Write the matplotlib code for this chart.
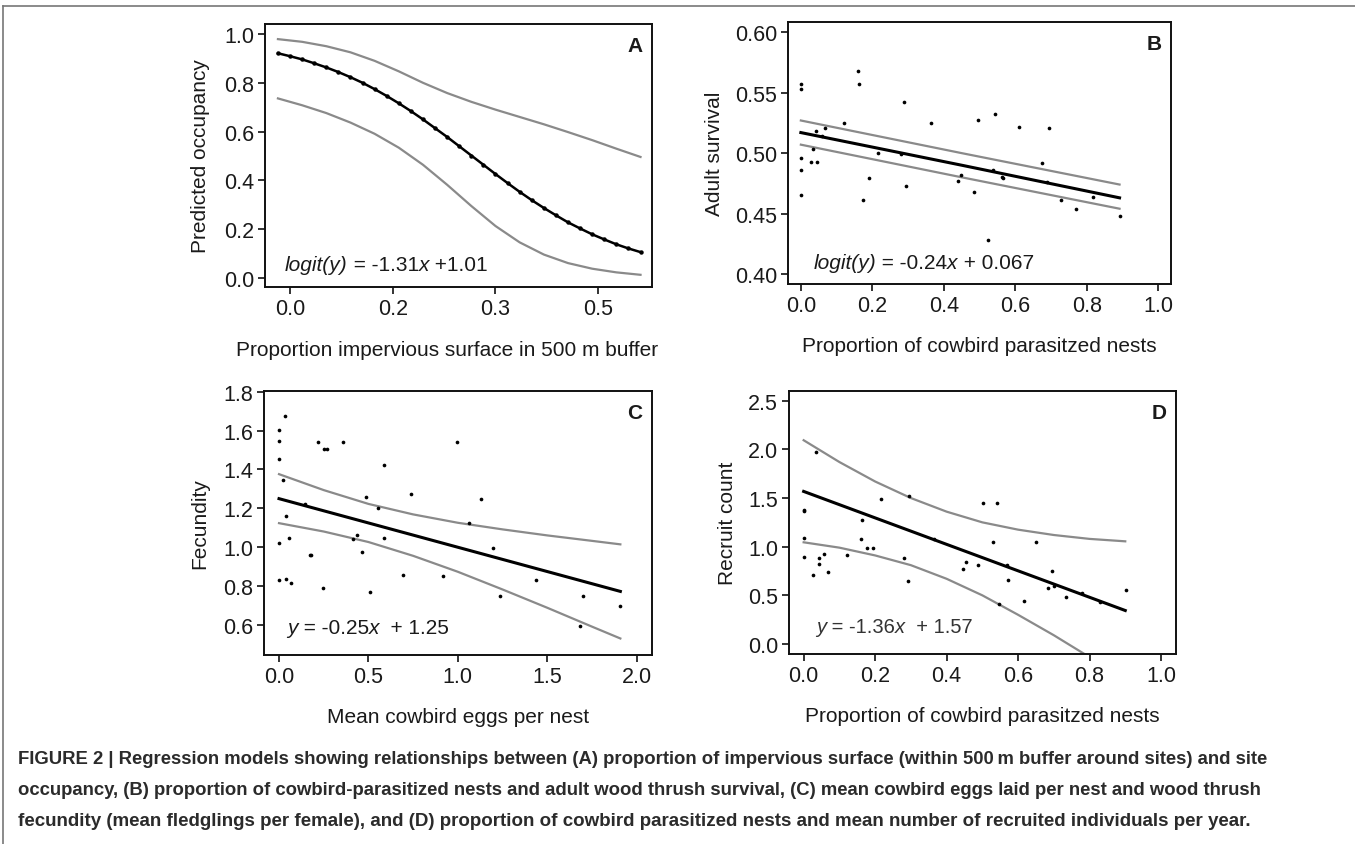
import matplotlib
matplotlib.use("Agg")
import matplotlib.pyplot as plt
from matplotlib import font_manager
from matplotlib.lines import Line2D
from matplotlib.transforms import offset_copy

# ---------------- data ----------------
# Panel A: predicted occupancy vs impervious surface
a_mean_x = [-0.02, 0.00, 0.02, 0.04, 0.06, 0.08, 0.10, 0.12, 0.14, 0.16, 0.18, 0.20, 0.22, 0.24,
            0.26, 0.28, 0.30, 0.32, 0.34, 0.36, 0.38, 0.40, 0.42, 0.44, 0.46, 0.48, 0.50, 0.52,
            0.54, 0.56, 0.58]
a_mean_y = [0.921, 0.909, 0.896, 0.880, 0.863, 0.844, 0.823, 0.800, 0.774, 0.746, 0.716, 0.684,
            0.650, 0.614, 0.578, 0.540, 0.502, 0.464, 0.426, 0.389, 0.353, 0.319, 0.287, 0.257,
            0.228, 0.203, 0.179, 0.158, 0.138, 0.121, 0.106]
a_band_x = [-0.02, 0.02, 0.06, 0.10, 0.14, 0.18, 0.22, 0.26, 0.30, 0.34, 0.38, 0.42, 0.46, 0.50,
            0.54, 0.58]
a_upper = [0.979, 0.968, 0.950, 0.925, 0.890, 0.847, 0.800, 0.758, 0.722, 0.690, 0.660, 0.630,
           0.598, 0.565, 0.530, 0.496]
a_lower = [0.736, 0.708, 0.676, 0.637, 0.591, 0.534, 0.464, 0.382, 0.295, 0.213, 0.146, 0.096,
           0.061, 0.038, 0.023, 0.013]
a_xticks = [0.0, 0.17, 0.34, 0.51]
a_xticklabels = ["0.0", "0.2", "0.3", "0.5"]
a_yticks = [0.0, 0.2, 0.4, 0.6, 0.8, 1.0]

# Panel B: adult survival vs proportion parasitized nests
b_x = [0.0, 0.0, 0.0, 0.0, 0.0, 0.028, 0.035, 0.043, 0.044, 0.058, 0.067, 0.121, 0.160, 0.162,
       0.175, 0.192, 0.215, 0.279, 0.288, 0.293, 0.363, 0.441, 0.448, 0.484, 0.496, 0.525,
       0.538, 0.542, 0.564, 0.566, 0.611, 0.676, 0.690, 0.694, 0.727, 0.771, 0.819, 0.892]
b_y = [0.557, 0.553, 0.496, 0.486, 0.465, 0.493, 0.503, 0.518, 0.493, 0.514, 0.521, 0.525,
       0.568, 0.557, 0.461, 0.479, 0.500, 0.499, 0.542, 0.473, 0.525, 0.477, 0.482, 0.468,
       0.527, 0.428, 0.486, 0.532, 0.480, 0.479, 0.522, 0.492, 0.476, 0.521, 0.461, 0.454,
       0.464, 0.448]
b_line_x = [0.0, 0.45, 0.892]
b_mean = [0.517, 0.490, 0.463]
b_upper = [0.527, 0.500, 0.474]
b_lower = [0.507, 0.480, 0.454]
b_xticks = [0.0, 0.2, 0.4, 0.6, 0.8, 1.0]
b_yticks = [0.40, 0.45, 0.50, 0.55, 0.60]

# Panel C: fecundity vs mean cowbird eggs per nest
c_x = [0.0, 0.0, 0.0, 0.0, 0.0, 0.024, 0.032, 0.039, 0.041, 0.054, 0.065, 0.147, 0.173, 0.177,
       0.216, 0.244, 0.252, 0.267, 0.358, 0.416, 0.438, 0.466, 0.487, 0.511, 0.556, 0.587,
       0.587, 0.694, 0.736, 0.919, 0.997, 1.065, 1.128, 1.199, 1.236, 1.437, 1.700, 1.685, 1.909]
c_y = [1.601, 1.548, 1.454, 1.020, 0.833, 1.346, 1.677, 1.160, 0.836, 1.049, 0.814, 1.222,
       0.962, 0.962, 1.543, 0.790, 1.505, 1.505, 1.543, 1.042, 1.063, 0.977, 1.258, 0.768,
       1.200, 1.424, 1.047, 0.859, 1.275, 0.850, 1.541, 1.126, 1.246, 0.996, 0.751, 0.833,
       0.751, 0.593, 0.698]
c_line_x = [0.0, 1.909]
c_mean = [1.250, 0.773]
c_band_x = [0.0, 0.25, 0.5, 0.75, 1.0, 1.25, 1.5, 1.75, 1.909]
c_upper = [1.376, 1.294, 1.223, 1.169, 1.126, 1.092, 1.061, 1.033, 1.015]
c_lower = [1.124, 1.081, 1.027, 0.956, 0.874, 0.783, 0.689, 0.592, 0.531]
c_xticks = [0.0, 0.5, 1.0, 1.5, 2.0]
c_yticks = [0.6, 0.8, 1.0, 1.2, 1.4, 1.6, 1.8]

# Panel D: recruit count vs proportion parasitized nests
d_x = [0.0, 0.0, 0.0, 0.0, 0.027, 0.034, 0.042, 0.044, 0.056, 0.068, 0.121, 0.160, 0.164,
       0.177, 0.193, 0.217, 0.281, 0.291, 0.296, 0.366, 0.445, 0.454, 0.487, 0.501, 0.530,
       0.542, 0.546, 0.570, 0.572, 0.616, 0.649, 0.683, 0.695, 0.701, 0.734, 0.778, 0.828,
       0.901]
d_y = [1.377, 1.363, 1.092, 0.890, 0.705, 1.976, 0.880, 0.822, 0.925, 0.743, 0.914, 1.075,
       1.271, 0.990, 0.983, 1.490, 0.880, 0.644, 1.517, 1.079, 0.771, 0.839, 0.812, 1.452,
       1.045, 1.445, 0.411, 0.812, 0.661, 0.438, 1.048, 0.572, 0.747, 0.596, 0.483, 0.521,
       0.435, 0.555]
d_line_x = [0.0, 0.9]
d_mean = [1.568, 0.344]
d_band_x = [0.0, 0.1, 0.2, 0.3, 0.4, 0.5, 0.6, 0.7, 0.8, 0.9]
d_upper = [2.094, 1.870, 1.670, 1.500, 1.360, 1.250, 1.175, 1.120, 1.080, 1.055]
d_lower = [1.045, 0.990, 0.910, 0.810, 0.670, 0.500, 0.300, 0.090, -0.135, -0.370]
d_xticks = [0.0, 0.2, 0.4, 0.6, 0.8, 1.0]
d_yticks = [0.0, 0.5, 1.0, 1.5, 2.0, 2.5]

eq_a = [("logit(y)", "italic"), (" = -1.31", "normal"), ("x", "italic"), (" +1.01", "normal")]
eq_b = [("logit(y)", "italic"), (" = -0.24", "normal"), ("x", "italic"), (" + 0.067", "normal")]
eq_c = [("y", "italic"), (" = -0.25", "normal"), ("x", "italic"), ("  + 1.25", "normal")]
eq_d = [("y", "italic"), (" = -1.36", "normal"), ("x", "italic"), ("  + 1.57", "normal")]

caption_lines = [
    "FIGURE 2 | Regression models showing relationships between (A) proportion of impervious surface (within 500\u2009m buffer around sites) and site",
    "occupancy, (B) proportion of cowbird-parasitized nests and adult wood thrush survival, (C) mean cowbird eggs laid per nest and wood thrush",
    "fecundity (mean fledglings per female), and (D) proportion of cowbird parasitized nests and mean number of recruited individuals per year.",
]

# ---------------- style ----------------
W, H = 1355, 845
plt.rcParams['font.family'] = ['Liberation Sans', 'DejaVu Sans']

TXT = '#1a1a1a'
GRAY = '#8a8a8a'
TICK_FS = 15.5
LAB_FS = 15
EQ_FS = 15

fig = plt.figure(figsize=(W / 100, H / 100), dpi=100)
renderer = fig.canvas.get_renderer()


def rect(l, r, t, b):
    return [l / W, 1 - b / H, (r - l) / W, (b - t) / H]


def style(ax, xlim, ylim, xticks, yticks, xlabels=None, ylabfmt="{:.1f}", xlabfmt="{:.1f}"):
    ax.set_xlim(*xlim)
    ax.set_ylim(*ylim)
    ax.set_xticks(xticks)
    ax.set_xticklabels(xlabels if xlabels else [xlabfmt.format(v) for v in xticks])
    ax.set_yticks(yticks)
    ax.set_yticklabels([ylabfmt.format(v) for v in yticks])
    for s in ax.spines.values():
        s.set_linewidth(1.4)
        s.set_color('#111111')
    ax.tick_params(direction='out', length=5, width=1.2, pad=3, labelsize=TICK_FS,
                   colors='#111111', labelcolor=TXT)


def pieces_text(ax, x, y, pieces, fs, color=TXT):
    dx = 0.0
    for txt, st in pieces:
        tr = offset_copy(ax.transAxes, fig=fig, x=dx, y=0, units='dots')
        t = ax.text(x, y, txt, transform=tr, fontsize=fs, fontstyle=st, color=color,
                    ha='left', va='baseline')
        dx += t.get_window_extent(renderer=renderer).width


def panel_letter(ax, s):
    ax.text(0.975, 0.955, s, transform=ax.transAxes, fontsize=15, fontweight='bold',
            ha='right', va='top', color=TXT)


# Panel A
axA = fig.add_axes(rect(265, 652, 25, 288))
axA.plot(a_band_x, a_upper, color=GRAY, lw=1.6)
axA.plot(a_band_x, a_lower, color=GRAY, lw=1.6)
axA.plot(a_mean_x, a_mean_y, color='black', lw=1.8, marker='o', ms=2.2)
style(axA, (-0.0414, 0.599), (-0.037, 1.041), a_xticks, a_yticks, xlabels=a_xticklabels)
axA.set_xlabel("Proportion impervious surface in 500 m buffer", fontsize=LAB_FS, color=TXT, labelpad=14)
axA.set_ylabel("Predicted occupancy", fontsize=LAB_FS, color=TXT, labelpad=10)
axA.xaxis.set_label_coords(0.47, -0.2)
pieces_text(axA, 0.052, 0.065, eq_a, EQ_FS)
panel_letter(axA, "A")

# Panel B
axB = fig.add_axes(rect(788, 1171, 23, 285))
axB.scatter(b_x, b_y, s=7, color='black', zorder=3, linewidths=0)
axB.plot(b_line_x, b_upper, color=GRAY, lw=1.6)
axB.plot(b_line_x, b_lower, color=GRAY, lw=1.6)
axB.plot(b_line_x, b_mean, color='black', lw=2.2)
style(axB, (-0.036, 1.036), (0.3917, 0.6085), b_xticks, b_yticks, ylabfmt="{:.2f}")
axB.set_xlabel("Proportion of cowbird parasitzed nests", fontsize=LAB_FS, color=TXT, labelpad=14)
axB.set_ylabel("Adult survival", fontsize=LAB_FS, color=TXT, labelpad=8)
pieces_text(axB, 0.066, 0.062, eq_b, EQ_FS)
panel_letter(axB, "B")

# Panel C
axC = fig.add_axes(rect(264, 652, 392, 656))
axC.scatter(c_x, c_y, s=7, color='black', zorder=3, linewidths=0)
axC.plot(c_band_x, c_upper, color=GRAY, lw=1.6)
axC.plot(c_band_x, c_lower, color=GRAY, lw=1.6)
axC.plot(c_line_x, c_mean, color='black', lw=2.2)
style(axC, (-0.084, 2.086), (0.446, 1.8036), c_xticks, c_yticks)
axC.set_xlabel("Mean cowbird eggs per nest", fontsize=LAB_FS, color=TXT, labelpad=14)
axC.set_ylabel("Fecundity", fontsize=LAB_FS, color=TXT, labelpad=10)
pieces_text(axC, 0.06, 0.085, eq_c, EQ_FS)
panel_letter(axC, "C")

# Panel D
axD = fig.add_axes(rect(789, 1176, 392, 655))
axD.scatter(d_x, d_y, s=7, color='black', zorder=3, linewidths=0)
axD.plot(d_band_x, d_upper, color=GRAY, lw=1.6)
axD.plot(d_band_x, d_lower, color=GRAY, lw=1.6)
axD.plot(d_line_x, d_mean, color='black', lw=2.2)
style(axD, (-0.041, 1.042), (-0.103, 2.6), d_xticks, d_yticks)
axD.set_xlabel("Proportion of cowbird parasitzed nests", fontsize=LAB_FS, color=TXT, labelpad=14)
axD.set_ylabel("Recruit count", fontsize=LAB_FS, color=TXT, labelpad=8)
pieces_text(axD, 0.07, 0.085, eq_d, EQ_FS - 0.5, color='#333333')
panel_letter(axD, "D")

# Outer frame lines (top and left)
fig.add_artist(Line2D([3 / W, 1.0], [1 - 7 / H, 1 - 7 / H], transform=fig.transFigure,
                      color='#777777', lw=1.2))
fig.add_artist(Line2D([3 / W, 3 / W], [1 - 7 / H, 0.0], transform=fig.transFigure,
                      color='#777777', lw=1.2))

# Caption
names = {f.name for f in font_manager.fontManager.ttflist}
cap_kw = dict(fontweight='bold', color='#2b2b2b', ha='left', va='center')
if 'Liberation Sans Narrow' in names:
    cap_kw['family'] = 'Liberation Sans Narrow'
else:
    cap_kw['family'] = 'Liberation Sans'

cap_y = [760, 791, 822]
cap_targets = [1252, 1244, 1235]
for line, yy, tw in zip(caption_lines, cap_y, cap_targets):
    t = fig.text(18 / W, 1 - yy / H, line, fontsize=13, **cap_kw)
    w = t.get_window_extent(renderer=renderer).width
    t.set_fontsize(13 * tw / w)

fig.savefig("out.png", dpi=100)
